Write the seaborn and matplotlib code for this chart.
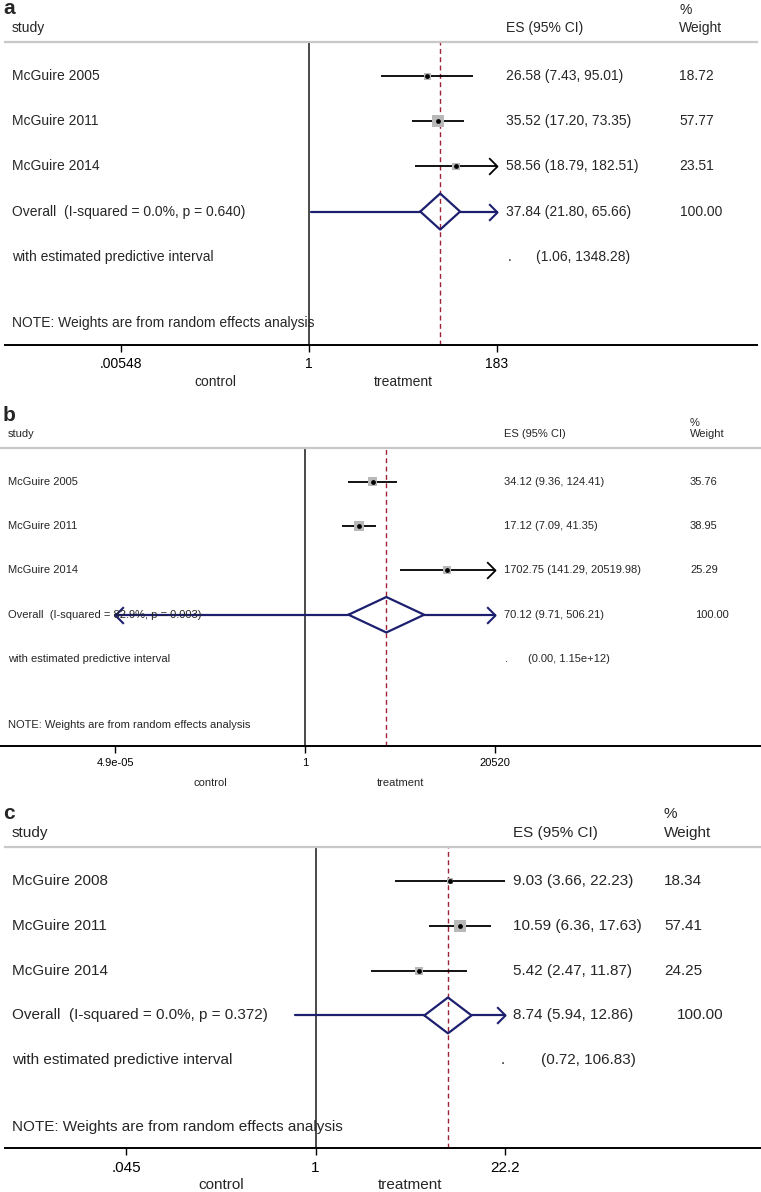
## Forest plots (a, b, c) - metanalise log-escala

import numpy as np
import pandas as pd
import seaborn as sns
import matplotlib.pyplot as plt
from matplotlib.path import Path
from matplotlib.transforms import blended_transform_factory

## Dados
studies_a = ['McGuire 2005', 'McGuire 2011', 'McGuire 2014']
es_a = [26.58, 35.52, 58.56]
lo_a = [7.43, 17.20, 18.79]
hi_a = [95.01, 73.35, 182.51]
w_a = [18.72, 57.77, 23.51]
arrow_a = [False, False, True]
overall_a = [37.84, 21.80, 65.66]
pred_a = [1.06, 1348.28]
isq_a, p_a = '0.0', '0.640'
ticklabels_a = ['.00548', '1', '183']

studies_b = ['McGuire 2005', 'McGuire 2011', 'McGuire 2014']
es_b = [34.12, 17.12, 1702.75]
lo_b = [9.36, 7.09, 141.29]
hi_b = [124.41, 41.35, 20519.98]
w_b = [35.76, 38.95, 25.29]
arrow_b = [False, False, True]
overall_b = [70.12, 9.71, 506.21]
pred_b = [0.0, 1.15e12]
isq_b, p_b = '82.9', '0.003'
ticklabels_b = ['4.9e-05', '1', '20520']

studies_c = ['McGuire 2008', 'McGuire 2011', 'McGuire 2014']
es_c = [9.03, 10.59, 5.42]
lo_c = [3.66, 6.36, 2.47]
hi_c = [22.23, 17.63, 11.87]
w_c = [18.34, 57.41, 24.25]
arrow_c = [False, False, False]
overall_c = [8.74, 5.94, 12.86]
pred_c = [0.72, 106.83]
isq_c, p_c = '0.0', '0.372'
ticklabels_c = ['.045', '1', '22.2']

## Estilo
sns.set_style('white')
plt.rcParams['font.family'] = ['Liberation Sans', 'DejaVu Sans']

W, H = 761, 1192
fig = plt.figure(figsize = (W / 100, H / 100), dpi = 100)

NAVY = '#1c1f6e'
GRAY_BOX = '#b8b8b8'
chev_r = Path([(-1, 1), (0, 0), (-1, -1)], [Path.MOVETO, Path.LINETO, Path.LINETO])
chev_l = Path([(1, 1), (0, 0), (1, -1)], [Path.MOVETO, Path.LINETO, Path.LINETO])


def fmt(v):
    if v >= 1e6:
        return f'{v:.2e}'
    return f'{v:.2f}'


## Painel
def painel(letter, studies, es, lo, hi, w, arrows, overall, pred, isq, pval,
           ticklabels, lay):

    x0, x1, top, bottom = lay['box']
    fs = lay['fs']
    ax = fig.add_axes([x0 / W, 1 - bottom / H, (x1 - x0) / W, (bottom - top) / H])

    # escala log
    t_hi = max(hi)
    t_lo = 1 / t_hi
    ticks = [t_lo, 1, t_hi]
    dpp = np.log10(t_hi) / (lay['hi_px'] - lay['one_px'])
    ax.set_xscale('log')
    ax.set_xlim(10 ** (-(lay['one_px'] - x0) * dpp), 10 ** ((x1 - lay['one_px']) * dpp))
    ax.set_ylim(5.96, -0.76)

    df = pd.DataFrame({'study': studies, 'es': es, 'lo': lo, 'hi': hi,
                       'w': w, 'arrow': arrows})
    df['row'] = np.arange(len(df))
    df['lo_c'] = df['lo'].clip(lower = t_lo)
    df['hi_c'] = df['hi'].clip(upper = t_hi)

    # linhas de referencia
    ax.axvline(1, color = '#2a2a2a', lw = 1.2, zorder = 1)
    ax.axvline(overall[0], color = '#9b2335', lw = 1.0,
               ls = (0, (3.5, 2.5)), zorder = 1)

    # intervalos dos estudos
    ax.hlines(df['row'], df['lo_c'], df['hi_c'], color = 'black', lw = 1.3, zorder = 2)
    for _, r in df[df['arrow']].iterrows():
        ax.plot([r['hi_c']], [r['row']], marker = chev_r, ms = 12, mfc = 'none',
                mec = 'black', mew = 1.3, ls = 'none')

    sns.scatterplot(data = df, x = 'es', y = 'row', marker = 's',
                    s = df['w'] * 1.3, color = GRAY_BOX, linewidth = 0,
                    ax = ax, zorder = 3, legend = False)
    sns.scatterplot(data = df, x = 'es', y = 'row', marker = 'o', s = 12,
                    color = 'black', linewidth = 0, ax = ax, zorder = 4,
                    legend = False)

    # overall + intervalo preditivo
    ro = len(df)
    es_o, lo_o, hi_o = overall
    p_lo = max(pred[0], t_lo)
    p_hi = min(pred[1], t_hi)
    ax.plot([p_lo, lo_o], [ro, ro], color = NAVY, lw = 1.6)
    ax.plot([hi_o, p_hi], [ro, ro], color = NAVY, lw = 1.6)
    if pred[1] > t_hi:
        ax.plot([t_hi], [ro], marker = chev_r, ms = 12, mfc = 'none',
                mec = NAVY, mew = 1.5, ls = 'none')
    if pred[0] < t_lo:
        ax.plot([t_lo], [ro], marker = chev_l, ms = 12, mfc = 'none',
                mec = NAVY, mew = 1.5, ls = 'none')
    ax.plot([lo_o, es_o, hi_o, es_o, lo_o], [ro, ro - 0.4, ro, ro + 0.4, ro],
            color = NAVY, lw = 1.6, zorder = 3)

    # textos
    tr = blended_transform_factory(fig.transFigure, ax.transData)
    def txt(xp, y, s, **kw):
        ax.text(xp / W, y, s, transform = tr, va = 'center', ha = 'left',
                fontsize = kw.pop('size', fs), **kw)

    txt(3, lay['let_y'], letter, size = 15, fontweight = 'bold')
    txt(lay['study_x'], -1.08, 'study')
    txt(lay['es_x'], -1.08, 'ES (95% CI)')
    txt(lay['w_x'], lay['pct_y'], '%')
    txt(lay['w_x'], -1.08, 'Weight')

    for _, r in df.iterrows():
        txt(lay['study_x'], r['row'], r['study'])
        txt(lay['es_x'], r['row'], f"{r['es']:.2f} ({r['lo']:.2f}, {r['hi']:.2f})")
        txt(lay['w_x'], r['row'], f"{r['w']:.2f}")

    txt(lay['study_x'], ro, f'Overall  (I-squared = {isq}%, p = {pval})')
    txt(lay['es_x'], ro, f'{es_o:.2f} ({lo_o:.2f}, {hi_o:.2f})')
    txt(lay['ow_x'], ro, f'{sum(w):.2f}')
    txt(lay['study_x'], ro + 1, 'with estimated predictive interval')
    txt(lay['dot_x'], ro + 1, '.')
    txt(lay['pi_x'], ro + 1, f'({fmt(pred[0])}, {fmt(pred[1])})')
    txt(lay['study_x'], 5.48, 'NOTE: Weights are from random effects analysis')

    # eixo
    for s in ['left', 'right']:
        ax.spines[s].set_visible(False)
    ax.spines['top'].set_color('#c8c8c8')
    ax.spines['top'].set_linewidth(1.6)
    ax.spines['bottom'].set_color('black')
    ax.spines['bottom'].set_linewidth(1.4)
    ax.set_yticks([])
    ax.set_xticks(ticks)
    ax.set_xticklabels(ticklabels, fontsize = fs)
    ax.xaxis.set_minor_locator(plt.NullLocator())
    ax.tick_params(axis = 'x', direction = 'out', length = 5, width = 1,
                   pad = 4, bottom = True, colors = 'black')
    ax.set_xlabel('')
    ax.set_ylabel('')

    for xv, lab in [(np.sqrt(t_lo), 'control'), (np.sqrt(t_hi), 'treatment')]:
        ax.annotate(lab, xy = (xv, 0), xycoords = ('data', 'axes fraction'),
                    xytext = (0, -37 * 0.72), textcoords = 'offset points',
                    ha = 'center', va = 'center', fontsize = fs)


lay_a = dict(box = (5, 757, 42, 345), one_px = 309, hi_px = 497, fs = 10,
             study_x = 12, es_x = 506, w_x = 679, ow_x = 680, dot_x = 508,
             pi_x = 536, let_y = -1.5, pct_y = -1.48)
lay_b = dict(box = (0, 761, 448, 746), one_px = 305, hi_px = 495, fs = 8,
             study_x = 8, es_x = 504, w_x = 690, ow_x = 695, dot_x = 505,
             pi_x = 528, let_y = -1.5, pct_y = -1.32)
lay_c = dict(box = (5, 761, 847, 1148), one_px = 315.5, hi_px = 505, fs = 11,
             study_x = 12, es_x = 513, w_x = 664, ow_x = 677, dot_x = 501,
             pi_x = 541, let_y = -1.5, pct_y = -1.5)

painel('a', studies_a, es_a, lo_a, hi_a, w_a, arrow_a, overall_a, pred_a,
       isq_a, p_a, ticklabels_a, lay_a)
painel('b', studies_b, es_b, lo_b, hi_b, w_b, arrow_b, overall_b, pred_b,
       isq_b, p_b, ticklabels_b, lay_b)
painel('c', studies_c, es_c, lo_c, hi_c, w_c, arrow_c, overall_c, pred_c,
       isq_c, p_c, ticklabels_c, lay_c)

## Salvando
plt.savefig('out.png', dpi = 100)
